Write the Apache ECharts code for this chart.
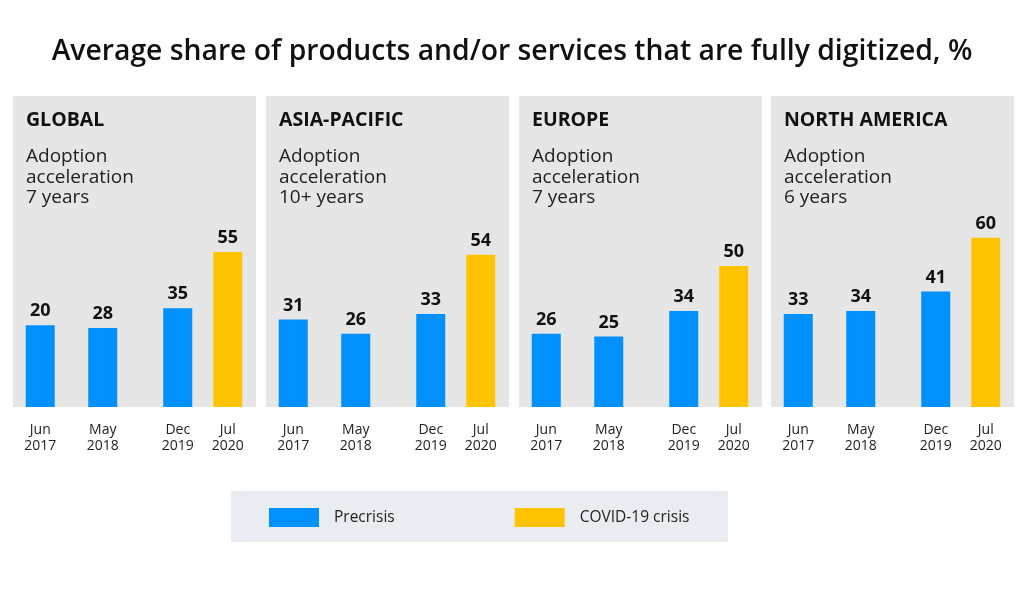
<!DOCTYPE html>
<html>
<head>
<meta charset="utf-8">
<script src="https://cdn.jsdelivr.net/npm/echarts@6/dist/echarts.min.js"></script>
<style>
html,body{margin:0;padding:0;background:#fff;}
#chart{width:1024px;height:592px;}
</style>
</head>
<body>
<div id="chart"></div>
<script>
// ---- data ----
const chartTitle = 'Average share of products and/or services that are fully digitized, %';
const regions = ['GLOBAL', 'ASIA-PACIFIC', 'EUROPE', 'NORTH AMERICA'];
const accelerations = ['7 years', '10+ years', '7 years', '6 years'];
const periods = ['Jun\n2017', 'May\n2018', 'Dec\n2019', 'Jul\n2020'];
const seriesNames = ['Precrisis', 'COVID-19 crisis'];
// bar heights as drawn in the reference
const globalValues = [29, 28, 35, 55];
const asiaPacificValues = [31, 26, 33, 54];
const europeValues = [26, 25, 34, 50];
const northAmericaValues = [33, 34, 41, 60];
// printed value labels (the reference prints 20 above the first Global bar)
const globalLabels = ['20', '28', '35', '55'];
const asiaPacificLabels = ['31', '26', '33', '54'];
const europeLabels = ['26', '25', '34', '50'];
const northAmericaLabels = ['33', '34', '41', '60'];

const allValues = [globalValues, asiaPacificValues, europeValues, northAmericaValues];
const allLabels = [globalLabels, asiaPacificLabels, europeLabels, northAmericaLabels];

// ---- layout ----
const BLUE = '#0090FF', YELLOW = '#FFC300', PANEL = '#E6E6E6';
const FONT = '"Open Sans", sans-serif';
const panelLeft = [13, 266, 519, 771];
const panelW = 243, panelTop = 96, baseY = 407;
const slotCount = 16;              // axis slots; the gap before Dec 2019 is wider
const slotOfPeriod = [0, 5, 11, 15];
const gridOffset = 21, gridW = 200, yMax = 70;
const gridH = yMax * 2.82;

const grids = [], xAxes = [], yAxes = [], series = [], graphics = [];
regions.forEach((r, i) => {
  const L = panelLeft[i];
  graphics.push({type: 'rect', z: 0, shape: {x: L, y: panelTop, width: panelW, height: baseY - panelTop}, style: {fill: PANEL}});
  graphics.push({type: 'text', z: 1, x: L + 13, y: 120, style: {text: r, font: '700 19.5px ' + FONT, fill: '#111', verticalAlign: 'middle', align: 'left'}});
  graphics.push({type: 'text', z: 1, x: L + 13, y: 146.5, style: {text: 'Adoption\nacceleration\n' + accelerations[i], font: '400 19px ' + FONT, lineHeight: 20.5, fill: '#222', verticalAlign: 'top', align: 'left'}});

  grids.push({left: L + gridOffset, width: gridW, top: baseY - gridH, height: gridH});
  const cats = [];
  for (let s = 0; s < slotCount; s++) {
    const p = slotOfPeriod.indexOf(s);
    cats.push(p >= 0 ? periods[p] : '');
  }
  xAxes.push({type: 'category', gridIndex: i, data: cats, axisLine: {show: false}, axisTick: {show: false},
    axisLabel: {interval: 0, color: '#222', fontFamily: FONT, fontSize: 14, lineHeight: 16, margin: 15}});
  yAxes.push({type: 'value', gridIndex: i, min: 0, max: yMax, show: false, splitLine: {show: false}});

  const mk = (which) => {
    const d = new Array(slotCount).fill('-');
    slotOfPeriod.forEach((s, p) => {
      const isCovid = p === 3;
      if ((which === 1) === isCovid) d[s] = {value: allValues[i][p], labelText: allLabels[i][p]};
    });
    return d;
  };
  [0, 1].forEach(w => {
    series.push({
      type: 'bar', name: seriesNames[w], xAxisIndex: i, yAxisIndex: i, clip: false,
      data: mk(w), barWidth: 29, barGap: '-100%',
      itemStyle: {color: w ? YELLOW : BLUE},
      label: {show: true, position: 'top', distance: 5, color: '#111', fontFamily: FONT, fontWeight: 700, fontSize: 18,
        formatter: p => p.data && p.data.labelText}
    });
  });
});

// legend background
graphics.push({type: 'rect', z: 0, shape: {x: 231, y: 491, width: 497, height: 51}, style: {fill: '#E9EDF1'}});

const chart = echarts.init(document.getElementById('chart'));
chart.setOption({
  animation: false,
  backgroundColor: '#fff',
  title: {text: chartTitle, left: 'center', top: 38, padding: 0,
    textStyle: {fontFamily: FONT, fontWeight: 600, fontSize: 28.3, color: '#111'}},
  legend: {data: seriesNames, left: 269, top: 508, itemWidth: 50, itemHeight: 19, itemGap: 120, padding: 0,
    icon: 'rect', textStyle: {fontFamily: FONT, fontSize: 15.5, color: '#222', padding: [0, 0, 0, 10]}},
  graphic: graphics,
  grid: grids, xAxis: xAxes, yAxis: yAxes, series: series
});
</script>
</body>
</html>
